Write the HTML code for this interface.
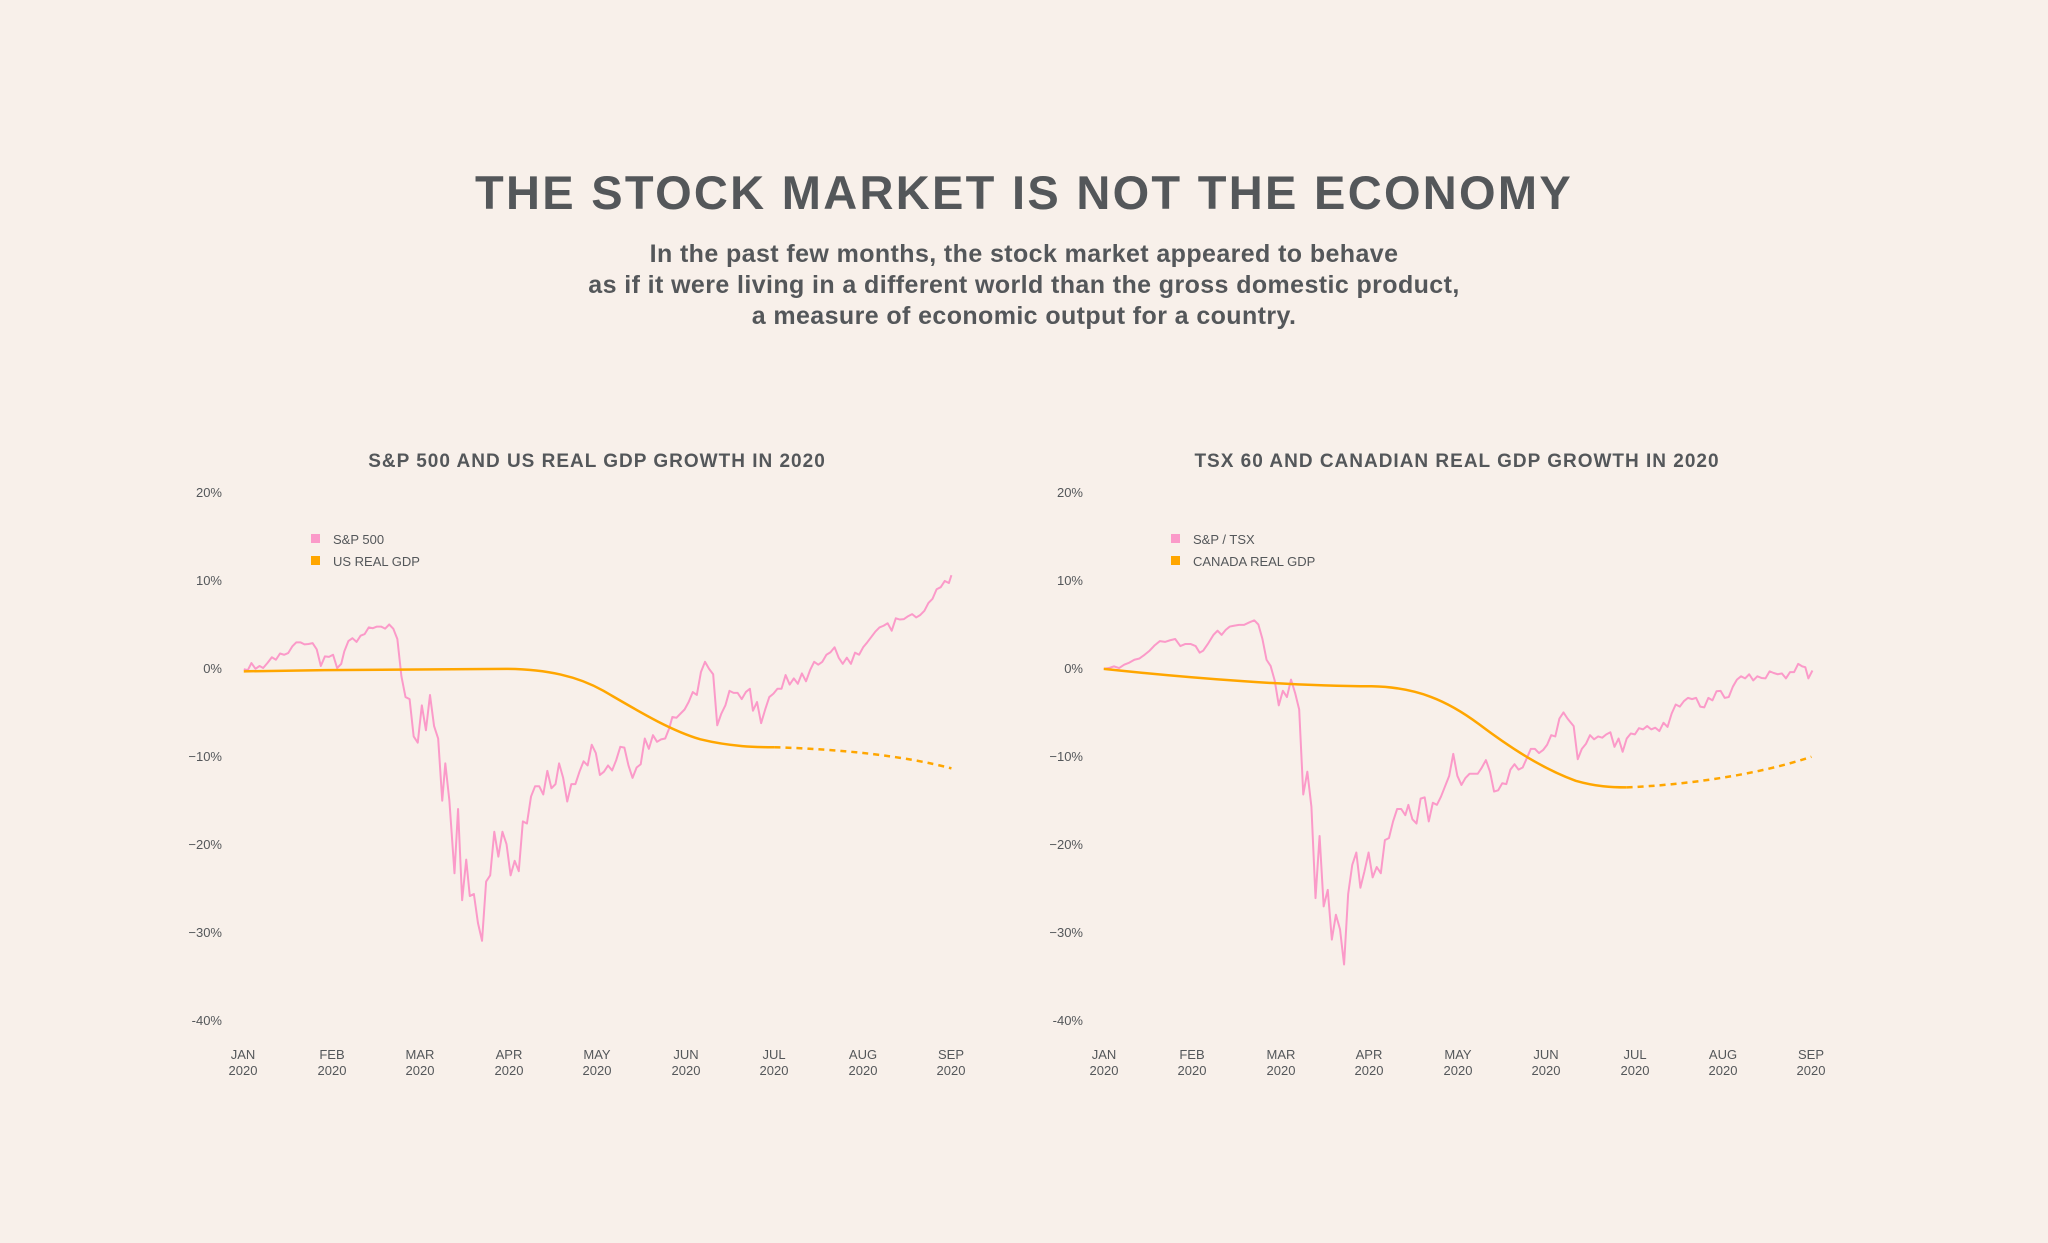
<!DOCTYPE html>
<html><head><meta charset="utf-8"><style>
html,body{margin:0;padding:0;background:#f8f0ea;}
svg{display:block}
text{font-family:"Liberation Sans",sans-serif;fill:#54575a;}
</style></head><body>
<svg width="2048" height="1243" viewBox="0 0 2048 1243" xmlns="http://www.w3.org/2000/svg">
<rect width="2048" height="1243" fill="#f8f0ea"/>
<text x="1024" y="209" text-anchor="middle" font-size="47" font-weight="bold" letter-spacing="2.3">THE STOCK MARKET IS NOT THE ECONOMY</text>
<g font-size="25" font-weight="bold" text-anchor="middle" letter-spacing="0.4">
<text x="1024" y="262">In the past few months, the stock market appeared to behave</text>
<text x="1024" y="293">as if it were living in a different world than the gross domestic product,</text>
<text x="1024" y="324">a measure of economic output for a country.</text>
</g>
<text x="597" y="467" text-anchor="middle" font-size="19" font-weight="bold" letter-spacing="1">S&amp;P 500 AND US REAL GDP GROWTH IN 2020</text>
<text x="1457" y="467" text-anchor="middle" font-size="19" font-weight="bold" letter-spacing="1">TSX 60 AND CANADIAN REAL GDP GROWTH IN 2020</text>

<g font-size="13" text-anchor="end">
<text x="222" y="497">20%</text><text x="222" y="585">10%</text><text x="222" y="673">0%</text><text x="222" y="761">−10%</text><text x="222" y="849">−20%</text><text x="222" y="937">−30%</text><text x="222" y="1025">-40%</text>
<text x="1083" y="497">20%</text><text x="1083" y="585">10%</text><text x="1083" y="673">0%</text><text x="1083" y="761">−10%</text><text x="1083" y="849">−20%</text><text x="1083" y="937">−30%</text><text x="1083" y="1025">-40%</text>
</g>
<g font-size="13" text-anchor="middle">
<text x="243" y="1059">JAN</text><text x="243" y="1075">2020</text>
<text x="332" y="1059">FEB</text><text x="332" y="1075">2020</text>
<text x="420" y="1059">MAR</text><text x="420" y="1075">2020</text>
<text x="509" y="1059">APR</text><text x="509" y="1075">2020</text>
<text x="597" y="1059">MAY</text><text x="597" y="1075">2020</text>
<text x="686" y="1059">JUN</text><text x="686" y="1075">2020</text>
<text x="774" y="1059">JUL</text><text x="774" y="1075">2020</text>
<text x="863" y="1059">AUG</text><text x="863" y="1075">2020</text>
<text x="951" y="1059">SEP</text><text x="951" y="1075">2020</text>
<text x="1104" y="1059">JAN</text><text x="1104" y="1075">2020</text>
<text x="1192" y="1059">FEB</text><text x="1192" y="1075">2020</text>
<text x="1281" y="1059">MAR</text><text x="1281" y="1075">2020</text>
<text x="1369" y="1059">APR</text><text x="1369" y="1075">2020</text>
<text x="1458" y="1059">MAY</text><text x="1458" y="1075">2020</text>
<text x="1546" y="1059">JUN</text><text x="1546" y="1075">2020</text>
<text x="1635" y="1059">JUL</text><text x="1635" y="1075">2020</text>
<text x="1723" y="1059">AUG</text><text x="1723" y="1075">2020</text>
<text x="1811" y="1059">SEP</text><text x="1811" y="1075">2020</text>
</g>
<g font-size="13">
<rect x="311" y="534" width="9" height="9" fill="#fb9ac9"/><text x="333" y="544">S&amp;P 500</text>
<rect x="311" y="556" width="9" height="9" fill="#ffa600"/><text x="333" y="566">US REAL GDP</text>
<rect x="1171" y="534" width="9" height="9" fill="#fb9ac9"/><text x="1193" y="544">S&amp;P / TSX</text>
<rect x="1171" y="556" width="9" height="9" fill="#ffa600"/><text x="1193" y="566">CANADA REAL GDP</text>
</g>

<g transform="translate(180,440) scale(0.5102,0.4146)" fill="none" stroke-linejoin="round">
<polyline vector-effect="non-scaling-stroke" stroke="#fb9ac9" stroke-width="2" points="125,553 133,555 140,538 148,552 156,545 163,550 172,537 180,524 188,530 196,515 204,518 212,514 220,498 228,488 236,488 244,493 252,492 260,490 268,505 276,545 284,522 292,523 300,518 308,550 316,540 322,510 330,485 338,478 346,487 354,472 362,468 370,452 378,454 386,450 394,450 402,455 410,445 418,455 426,480 434,570 442,620 450,625 458,715 466,730 474,640 482,700 490,615 498,690 506,720 514,870 520,780 528,870 538,1045 545,890 553,1110 561,1012 568,1100 576,1095 584,1165 592,1208 600,1065 608,1050 616,945 624,1005 632,945 640,975 648,1050 656,1015 664,1040 672,920 680,925 688,860 696,835 704,835 712,855 720,798 728,840 736,830 743,780 751,815 759,872 767,830 775,830 783,800 791,775 799,785 807,735 815,755 823,808 831,800 839,785 847,797 855,772 863,740 871,742 879,785 887,815 895,790 903,782 911,720 919,745 927,712 935,728 943,722 951,720 959,695 965,668 973,670 981,660 989,650 997,632 1005,608 1013,615 1021,560 1029,535 1037,552 1045,565 1053,688 1061,660 1069,640 1077,605 1085,610 1093,610 1101,625 1109,608 1117,600 1123,653 1131,632 1139,683 1147,650 1155,620 1163,612 1171,600 1179,600 1187,567 1195,590 1203,575 1211,588 1219,563 1227,582 1235,555 1243,535 1251,542 1259,535 1267,518 1275,512 1283,500 1291,525 1299,540 1307,525 1315,540 1323,513 1331,518 1339,500 1347,488 1355,475 1363,462 1371,452 1379,448 1387,442 1395,460 1403,430 1411,433 1419,432 1427,425 1435,420 1443,428 1451,422 1459,412 1467,393 1475,383 1483,360 1491,355 1499,340 1507,345 1512,326"/>
<path vector-effect="non-scaling-stroke" stroke="#ffa600" stroke-width="2.5" d="M125,558 C300,554 500,552 640,552 C720,553 780,570 830,605 C900,655 960,700 1020,722 C1080,740 1130,741 1165,741"/>
<path vector-effect="non-scaling-stroke" stroke="#ffa600" stroke-width="2.5" stroke-dasharray="6,5" d="M1165,741 C1300,746 1420,762 1512,792"/>
</g>

<g transform="translate(1040,440) scale(0.5102,0.4146)" fill="none" stroke-linejoin="round">
<polyline vector-effect="non-scaling-stroke" stroke="#fb9ac9" stroke-width="2" points="125,552 135,550 145,546 155,550 165,542 175,537 185,530 195,527 205,518 215,508 225,495 235,485 245,487 255,483 265,480 275,497 285,492 295,492 305,497 313,513 320,508 330,490 340,470 348,460 356,470 364,458 372,450 380,448 390,446 400,446 410,440 420,435 428,445 436,480 444,530 452,545 460,580 468,640 476,605 484,620 492,578 500,610 508,650 516,855 524,800 532,885 540,1105 548,955 556,1125 564,1085 572,1205 580,1145 588,1180 596,1265 604,1095 612,1025 620,995 628,1080 636,1040 644,995 652,1055 660,1030 668,1045 676,965 684,960 692,920 700,890 708,890 716,905 722,880 730,915 738,925 746,865 754,862 762,920 770,875 778,880 786,860 794,835 802,810 810,757 818,810 826,832 834,815 842,805 850,805 858,805 866,790 874,772 882,800 890,848 898,845 906,828 914,830 922,795 930,782 938,795 946,790 954,768 962,745 970,745 978,755 986,748 994,735 1002,712 1010,715 1018,672 1026,657 1034,672 1046,690 1054,770 1062,745 1070,733 1078,712 1086,722 1094,715 1102,718 1110,710 1118,705 1126,740 1134,720 1142,752 1150,720 1158,708 1166,710 1174,695 1182,698 1190,690 1198,698 1206,694 1214,702 1222,682 1230,692 1238,660 1246,638 1254,643 1262,630 1270,622 1278,625 1286,622 1294,643 1302,645 1310,622 1318,628 1326,606 1334,605 1342,622 1350,620 1358,595 1366,578 1374,570 1382,575 1390,565 1398,580 1406,570 1414,574 1422,575 1430,558 1438,562 1446,565 1454,563 1462,575 1470,560 1478,560 1486,540 1494,546 1500,548 1506,575 1514,556"/>
<path vector-effect="non-scaling-stroke" stroke="#ffa600" stroke-width="2.5" d="M125,552 C300,575 500,594 650,594 C740,596 800,630 860,685 C930,750 990,795 1050,822 C1090,836 1120,838 1150,838"/>
<path vector-effect="non-scaling-stroke" stroke="#ffa600" stroke-width="2.5" stroke-dasharray="6,5" d="M1150,838 C1260,832 1400,810 1512,764"/>
</g>
</svg>
</body></html>
